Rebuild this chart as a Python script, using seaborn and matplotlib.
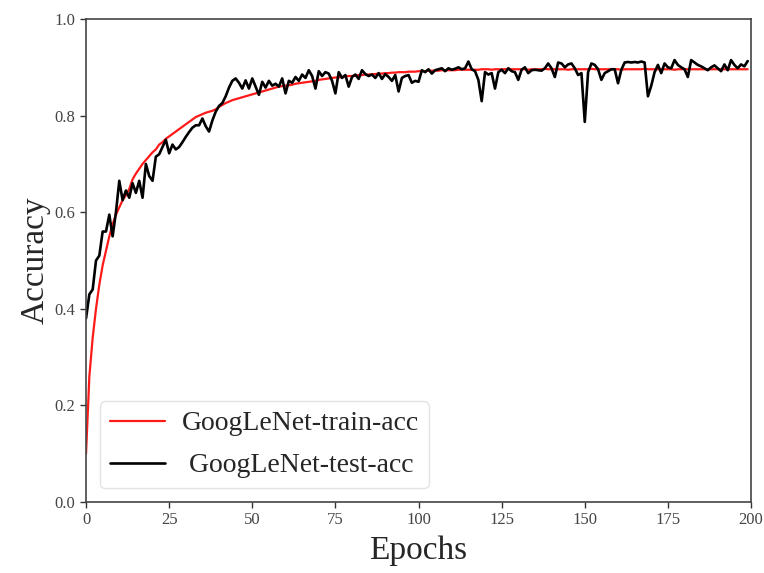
import numpy as np
import pandas as pd
import matplotlib
matplotlib.use('Agg')
import matplotlib.pyplot as plt
import seaborn as sns

# Epoch index
epochs = list(range(200))

# Train accuracy (red, smooth)
train_acc = [
    0.100, 0.260, 0.340, 0.400, 0.450, 0.490, 0.520, 0.550, 0.575, 0.595,
    0.610, 0.625, 0.635, 0.648, 0.668, 0.680, 0.690, 0.700, 0.708, 0.716,
    0.724, 0.730, 0.740, 0.745, 0.752, 0.757, 0.762, 0.767, 0.772, 0.777,
    0.782, 0.787, 0.792, 0.797, 0.800, 0.803, 0.806, 0.808, 0.810, 0.813,
    0.818, 0.822, 0.826, 0.829, 0.832, 0.834, 0.836, 0.838, 0.840, 0.842,
    0.844, 0.846, 0.848, 0.850, 0.852, 0.854, 0.856, 0.858, 0.860, 0.861,
    0.862, 0.863, 0.864, 0.866, 0.867, 0.868, 0.869, 0.870, 0.871, 0.872,
    0.874, 0.875, 0.876, 0.877, 0.878, 0.879, 0.879, 0.880, 0.881, 0.882,
    0.882, 0.883, 0.884, 0.884, 0.885, 0.885, 0.886, 0.886, 0.887, 0.887,
    0.888, 0.888, 0.889, 0.889, 0.890, 0.890, 0.890, 0.891, 0.891, 0.891,
    0.892, 0.892, 0.892, 0.893, 0.893, 0.893, 0.893, 0.894, 0.894, 0.894,
    0.894, 0.894, 0.895, 0.895, 0.895, 0.895, 0.895, 0.895, 0.895, 0.896,
    0.896, 0.896, 0.895, 0.896, 0.896, 0.896, 0.896, 0.897, 0.896, 0.896,
    0.896, 0.896, 0.896, 0.895, 0.896, 0.896, 0.896, 0.896, 0.897, 0.896,
    0.896, 0.896, 0.896, 0.896, 0.896, 0.895, 0.896, 0.896, 0.896, 0.896,
    0.896, 0.896, 0.897, 0.896, 0.896, 0.896, 0.896, 0.896, 0.896, 0.896,
    0.896, 0.895, 0.896, 0.896, 0.896, 0.896, 0.896, 0.896, 0.897, 0.896,
    0.896, 0.896, 0.896, 0.896, 0.896, 0.896, 0.896, 0.895, 0.896, 0.896,
    0.896, 0.896, 0.896, 0.896, 0.896, 0.896, 0.896, 0.896, 0.896, 0.896,
    0.896, 0.896, 0.896, 0.896, 0.896, 0.896, 0.896, 0.896, 0.896, 0.896,
]

# Test accuracy (black, noisy)
test_acc = [
    0.380, 0.430, 0.440, 0.500, 0.510, 0.560, 0.560, 0.595, 0.550, 0.600,
    0.665, 0.625, 0.645, 0.630, 0.660, 0.640, 0.665, 0.630, 0.700, 0.675,
    0.665, 0.715, 0.720, 0.735, 0.750, 0.722, 0.740, 0.730, 0.735, 0.745,
    0.756, 0.766, 0.775, 0.780, 0.780, 0.794, 0.778, 0.767, 0.790, 0.808,
    0.820, 0.826, 0.840, 0.858, 0.872, 0.877, 0.868, 0.856, 0.873, 0.856,
    0.877, 0.860, 0.843, 0.870, 0.858, 0.872, 0.862, 0.866, 0.860, 0.877,
    0.846, 0.872, 0.868, 0.880, 0.872, 0.885, 0.878, 0.894, 0.882, 0.856,
    0.892, 0.882, 0.890, 0.887, 0.872, 0.846, 0.890, 0.878, 0.884, 0.860,
    0.880, 0.885, 0.876, 0.894, 0.886, 0.882, 0.885, 0.878, 0.888, 0.876,
    0.886, 0.880, 0.872, 0.884, 0.850, 0.878, 0.882, 0.884, 0.868, 0.872,
    0.870, 0.894, 0.890, 0.896, 0.887, 0.894, 0.896, 0.898, 0.892, 0.898,
    0.895, 0.897, 0.900, 0.896, 0.898, 0.912, 0.896, 0.892, 0.874, 0.830,
    0.890, 0.885, 0.888, 0.856, 0.890, 0.895, 0.888, 0.898, 0.892, 0.890,
    0.874, 0.895, 0.900, 0.888, 0.894, 0.895, 0.894, 0.893, 0.898, 0.908,
    0.898, 0.880, 0.910, 0.908, 0.900, 0.906, 0.908, 0.898, 0.884, 0.888,
    0.787, 0.890, 0.908, 0.905, 0.896, 0.874, 0.888, 0.892, 0.896, 0.896,
    0.867, 0.895, 0.910, 0.911, 0.910, 0.911, 0.910, 0.912, 0.910, 0.840,
    0.862, 0.890, 0.905, 0.888, 0.908, 0.900, 0.898, 0.915, 0.905, 0.900,
    0.896, 0.880, 0.915, 0.910, 0.905, 0.902, 0.898, 0.894, 0.900, 0.904,
    0.898, 0.892, 0.906, 0.894, 0.915, 0.905, 0.898, 0.906, 0.902, 0.913,
]

df = pd.DataFrame({'epoch': epochs, 'train': train_acc, 'test': test_acc})

sns.set_theme(style='ticks')
plt.rcParams['font.family'] = ['Liberation Serif', 'DejaVu Serif']

fig = plt.figure(figsize=(7.64, 5.73), dpi=100)
ax = fig.add_axes([0.1126, 0.1239, 0.8704, 0.8429])

sns.lineplot(data=df, x='epoch', y='train', color='#ff1a1a', linewidth=1.6,
             label='GoogLeNet-train-acc', ax=ax)
sns.lineplot(data=df, x='epoch', y='test', color='black', linewidth=1.9,
             label=' GoogLeNet-test-acc', ax=ax)

ax.set_xlim(0, 200)
ax.set_ylim(0, 1.0)
ax.set_xticks([0, 25, 50, 75, 100, 125, 150, 175, 200])
ax.set_yticks([0.0, 0.2, 0.4, 0.6, 0.8, 1.0])
ax.tick_params(labelsize=12, colors='#333333', labelcolor='#444444', length=4, width=1)
ax.set_xlabel('Epochs', fontsize=24, labelpad=5)
ax.set_ylabel('Accuracy', fontsize=24, labelpad=3)

for sp in ax.spines.values():
    sp.set_visible(True)
    sp.set_color('#444444')
    sp.set_linewidth(1.2)

leg = ax.legend(loc='lower left', fontsize=20, frameon=True,
                labelspacing=0.6, handletextpad=0.6, borderpad=0.35)
leg.get_frame().set_edgecolor('#dddddd')

fig.savefig('out.png', dpi=100)
